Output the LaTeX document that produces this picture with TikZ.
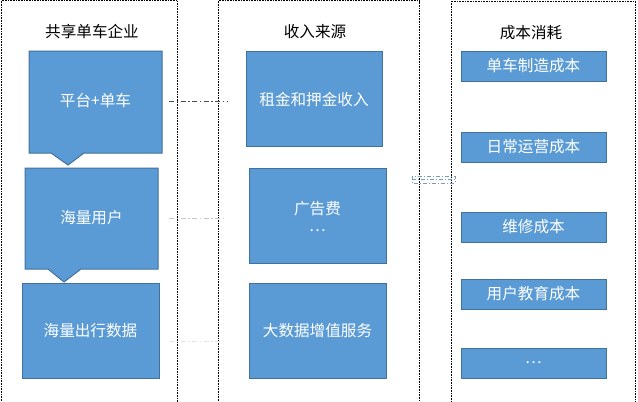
\documentclass[tikz,border=0pt]{standalone}
\usepackage{fontspec}
\newfontfamily\cjk{Noto Sans CJK SC}
\begin{document}
\begin{tikzpicture}[x=1pt,y=-1pt,
  panel/.style={draw=black,line width=0.8pt,dash pattern=on 0.8pt off 0.8pt},
  bluebox/.style={draw=bborder,fill=bfill,line width=1pt},
  btext/.style={font=\cjk\fontsize{15.6}{18}\selectfont,text=white,align=center,inner sep=0pt},
  ttext/.style={font=\cjk\fontsize{15.6}{18}\selectfont,text=black,inner sep=0pt},
  ddot/.style={line width=0.9pt,dash pattern=on 5pt off 2.5pt on 1.5pt off 2.5pt}]
\definecolor{bfill}{HTML}{5B9BD5}
\definecolor{bborder}{HTML}{41719C}
\useasboundingbox (0,0) rectangle (638,402);
\clip (0,0) rectangle (638,402);
\fill[white] (0,0) rectangle (638,402);
% panels
\draw[panel] (1,0.5) rectangle (177,410);
\draw[panel] (218.5,0.5) rectangle (419,410);
\draw[panel] (451,1) rectangle (635,410);
% titles
\node[ttext] (t1) at (92,32) {共享单车企业};
\node[ttext] (t2) at (315,32) {收入来源};
\node[ttext] (t3) at (531,33) {成本消耗};
% left column
\draw[bluebox] (29,51) -- (162,51) -- (162,153) -- (84,153) -- (68,165) -- (51,153) -- (29,153) -- cycle;
\node[btext] (l1) at (95.5,101) {平台+单车};
\draw[bluebox] (25,168) -- (158,168) -- (158,269) -- (81,269) -- (64,282) -- (48,269) -- (25,269) -- cycle;
\node[btext] (l2) at (91.5,218) {海量用户};
\draw[bluebox] (22,283) rectangle (159,378);
\node[btext] (l3) at (90.5,331) {海量出行数据};
% middle column
\draw[bluebox] (246,51) rectangle (382,146);
\node[btext] (m1) at (314,100) {租金和押金收入};
\draw[bluebox] (249,168) rectangle (386,263);
\node[btext] (m2) at (317.5,217) {广告费\\[-1pt]…};
\draw[bluebox] (249,283) rectangle (386,378);
\node[btext] (m3) at (317.5,331) {大数据增值服务};
% right column
\draw[bluebox] (461,51) rectangle (606,81);
\node[btext] (r1) at (533.5,66) {单车制造成本};
\draw[bluebox] (461,132) rectangle (606,162);
\node[btext] (r2) at (533.5,147) {日常运营成本};
\draw[bluebox] (461,212) rectangle (606,242);
\node[btext] (r3) at (533.5,227) {维修成本};
\draw[bluebox] (461,279) rectangle (606,309);
\node[btext] (r4) at (533.5,294) {用户教育成本};
\draw[bluebox] (461,348) rectangle (606,378);
\node[btext] (r5) at (533.5,363) {…};
% connectors
\coordinate (a1) at (169,101);
\coordinate (b1) at (228,101);
\coordinate (a2) at (169,218);
\coordinate (b2) at (224,218);
\coordinate (a3) at (169,341);
\coordinate (b3) at (224,341);
\draw[ddot,draw=black!70] (a1) -- (b1);
\draw[ddot,draw=black!22] (a2) -- (b2);
\draw[ddot,draw=black!10] (a3) -- (b3);
% small fragment
\coordinate (f1) at (412,176);
\coordinate (f2) at (455,183);
\draw[bborder!70,line width=0.8pt,dash pattern=on 4pt off 2pt on 1pt off 2pt] (f1) rectangle (f2);
\draw[bborder!70,line width=0.8pt,dash pattern=on 4pt off 2pt on 1pt off 2pt] (412,179.5) -- (455,179.5);
\end{tikzpicture}
\end{document}
